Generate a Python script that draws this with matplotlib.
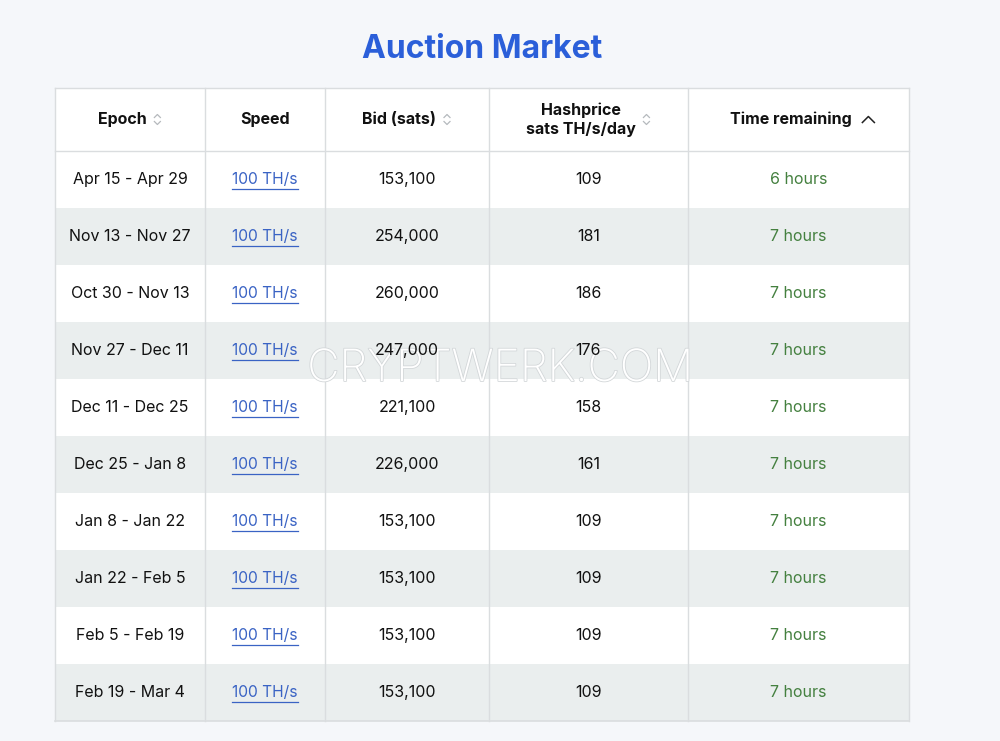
import matplotlib
matplotlib.use("Agg")
import matplotlib.pyplot as plt
import matplotlib.patheffects as pe

plt.rcParams['font.family'] = ['Inter', 'DejaVu Sans']

TITLE = "Auction Market"
HEADERS = ["Epoch", "Speed", "Bid (sats)", "Hashprice\nsats TH/s/day", "Time remaining"]
SORT_ICON = ["both", None, "both", "both", "up"]

epochs = ["Apr 15 - Apr 29", "Nov 13 - Nov 27", "Oct 30 - Nov 13", "Nov 27 - Dec 11",
          "Dec 11 - Dec 25", "Dec 25 - Jan 8", "Jan 8 - Jan 22", "Jan 22 - Feb 5",
          "Feb 5 - Feb 19", "Feb 19 - Mar 4"]
speeds = ["100 TH/s"] * 10
bids = [153100, 254000, 260000, 247000, 221100, 226000, 153100, 153100, 153100, 153100]
hashprice = [109, 181, 186, 176, 158, 161, 109, 109, 109, 109]
time_left = ["6 hours"] + ["7 hours"] * 9

# layout in pixel coordinates
col_edges = [55, 205, 325, 489, 688, 909]
header_top, header_bot = 88, 151
row_h = 57

BG = "#f5f7fa"
ALT = "#eaeeee"
LINE = "#dadddf"
BLUE = "#2b5fd9"
LINK = "#3a63c4"
GREEN = "#44803f"
TEXT = "#111111"

fig = plt.figure(figsize=(10, 7.41), dpi=100, facecolor=BG)
ax = fig.add_axes([0, 0, 1, 1])
ax.set_xlim(0, 1000)
ax.set_ylim(741, 0)
ax.axis("off")

ax.text(482, 50, TITLE, ha="center", va="center", fontsize=23, fontweight="bold", color=BLUE)

n = len(epochs)
left, right = col_edges[0], col_edges[-1]
bottom = header_bot + n * row_h

# header + rows backgrounds
ax.add_patch(plt.Rectangle((left, header_top), right - left, header_bot - header_top,
                           facecolor="white", edgecolor="none"))
for i in range(n):
    y0 = header_bot + i * row_h
    ax.add_patch(plt.Rectangle((left, y0), right - left, row_h,
                               facecolor=ALT if i % 2 else "white", edgecolor="none"))

# grid lines
for x in col_edges:
    ax.plot([x, x], [header_top, bottom], color=LINE, lw=1)
ax.plot([left, right], [header_top, header_top], color=LINE, lw=1)
ax.plot([left, right], [header_bot, header_bot], color=LINE, lw=1)
ax.plot([left, right], [bottom, bottom], color=LINE, lw=1.2)

# watermark (behind the cell text)
ax.text(500, 369, "CRYPTWERK.COM", ha="center", va="center", fontsize=32, color="white",
        fontweight="light", path_effects=[pe.withStroke(linewidth=1.2, foreground="#d3d7d9")],
        zorder=2.5)

# headers
hy = (header_top + header_bot) / 2
centers = [(col_edges[j] + col_edges[j + 1]) / 2 for j in range(5)]
head_texts = []
for j, h in enumerate(HEADERS):
    t = ax.text(centers[j] - (8 if SORT_ICON[j] else 0), hy, h, ha="center", va="center",
                fontsize=11.5, fontweight="bold", color=TEXT, linespacing=1.3, zorder=4)
    head_texts.append(t)

# cells
cell_y = [header_bot + (i + 0.5) * row_h for i in range(n)]
link_texts = []
for i in range(n):
    y = cell_y[i]
    ax.text(centers[0], y, epochs[i], ha="center", va="center", fontsize=11.5, color=TEXT, zorder=4)
    lt = ax.text(centers[1], y, speeds[i], ha="center", va="center", fontsize=11.2, color=LINK, zorder=4)
    link_texts.append(lt)
    ax.text(centers[2], y, f"{bids[i]:,}", ha="center", va="center", fontsize=11.5, color=TEXT, zorder=4)
    ax.text(centers[3], y, str(hashprice[i]), ha="center", va="center", fontsize=11.5, color=TEXT, zorder=4)
    ax.text(centers[4], y, time_left[i], ha="center", va="center", fontsize=11.5, color=GREEN, zorder=4)

fig.canvas.draw()
inv = ax.transData.inverted()

# underline the links
for lt in link_texts:
    bb = lt.get_window_extent()
    (x0, _), (x1, _) = inv.transform([(bb.x0, bb.y0), (bb.x1, bb.y0)])
    y = lt.get_position()[1] + 9
    ax.plot([x0, x1], [y, y], color=LINK, lw=0.9, zorder=4)

# sort icons to the right of headers
for t, kind in zip(head_texts, SORT_ICON):
    if not kind:
        continue
    bb = t.get_window_extent()
    (_, _), (x1, _) = inv.transform([(bb.x0, bb.y0), (bb.x1, bb.y0)])
    cx = x1 + 11
    if kind == "both":
        ax.plot([cx - 3, cx, cx + 3], [hy - 2, hy - 5, hy - 2], color="#b5b9bd", lw=0.9)
        ax.plot([cx - 3, cx, cx + 3], [hy + 2, hy + 5, hy + 2], color="#b5b9bd", lw=0.9)
    else:
        cx += 6
        ax.plot([cx - 6, cx, cx + 6], [hy + 3, hy - 3, hy + 3], color="#222222", lw=1.1)

fig.savefig("out.png", dpi=100, facecolor=BG)
